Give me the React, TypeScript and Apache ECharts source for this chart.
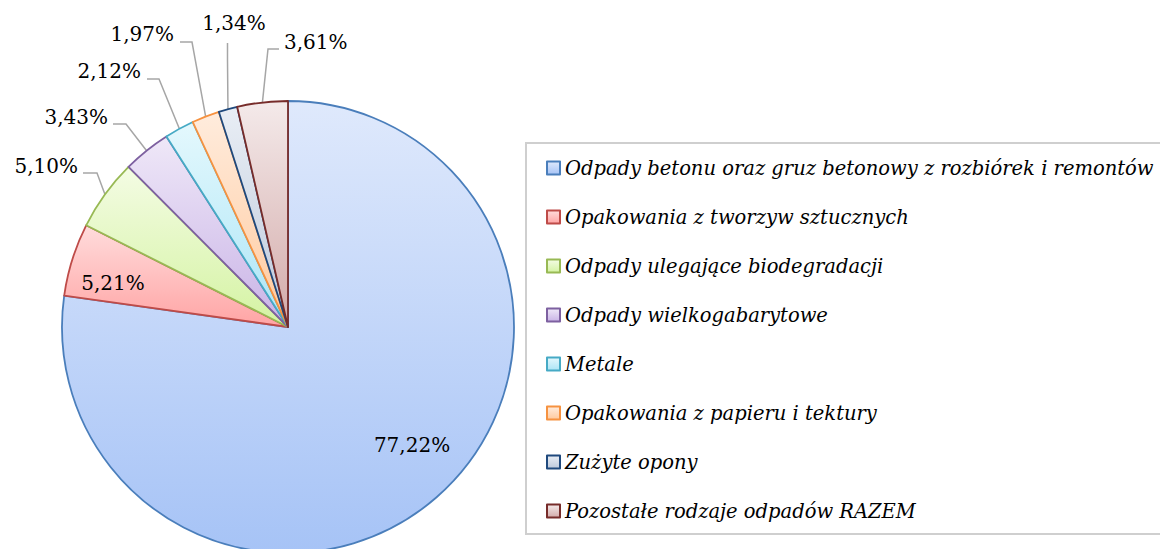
import React, { useEffect, useRef } from "react";
import * as echarts from "echarts";

const categories = [
  "Odpady betonu oraz gruz betonowy z rozbiórek i remontów",
  "Opakowania z tworzyw sztucznych",
  "Odpady ulegające biodegradacji",
  "Odpady wielkogabarytowe",
  "Metale",
  "Opakowania z papieru i tektury",
  "Zużyte opony",
  "Pozostałe rodzaje odpadów RAZEM",
];
const values = [77.22, 5.21, 5.1, 3.43, 2.12, 1.97, 1.34, 3.61];
const valueLabels = ["77,22%", "5,21%", "5,10%", "3,43%", "2,12%", "1,97%", "1,34%", "3,61%"];

const borderColors = ["#4a7ebb", "#be4b48", "#98b954", "#7d60a0", "#46aac5", "#f69240", "#1f497d", "#772c2a"];
const fillTop = ["#dfe9fc", "#ffdcdc", "#f4fce4", "#efe8f8", "#e4f8fd", "#ffecdd", "#e9eef5", "#f4eaea"];
const fillBottom = ["#a6c3f6", "#ffa4a4", "#d4f3a2", "#c9b3e6", "#abe5f6", "#ffc99d", "#bdc9db", "#d3aaa9"];

const CX = 288;
const CY = 327;
const R = 226;

// label placement (layout only)
const labelPlacement: Record<number, any> = {
  0: { x: 412, y: 445, align: "center" },
  1: { x: 113, y: 283, align: "center" },
  2: { x: 78, y: 166, align: "right", line: [[97, 173], [83, 173]] },
  3: { x: 108, y: 117, align: "right", line: [[126, 124], [113, 124]] },
  4: { x: 141, y: 71, align: "right", line: [[159, 79], [147, 79]] },
  5: { x: 174, y: 34, align: "right", line: [[192, 42], [180, 42]] },
  6: { x: 234, y: 23, align: "center", line: [[227.5, 60], [227.5, 43]] },
  7: { x: 284, y: 42, align: "left", line: [[268, 49], [279, 49]] },
};

export default function App() {
  const ref = useRef<HTMLDivElement>(null);
  useEffect(() => {
    if (!ref.current) return;
    const chart = echarts.init(ref.current, undefined, { renderer: "svg" });
    const total = values.reduce((a, b) => a + b, 0);
    const mids: number[] = [];
    let acc = 0;
    values.forEach((v) => {
      const a0 = (acc / total) * 360;
      acc += v;
      const a1 = (acc / total) * 360;
      mids.push((a0 + a1) / 2);
    });
    const data = categories.map((name, i) => ({
      name,
      value: values[i],
      itemStyle: {
        color: new echarts.graphic.LinearGradient(0, 0, 0, 1, [
          { offset: 0, color: fillTop[i] },
          { offset: 1, color: fillBottom[i] },
        ]),
        borderColor: borderColors[i],
        borderWidth: 1.8,
      },
      label: { position: i < 2 ? "inside" : "outside" },
    }));
    chart.setOption({
      animation: false,
      legend: {
        orient: "vertical",
        left: 526,
        top: 143,
        padding: [15, 12, 13, 20],
        borderColor: "#cfcfcf",
        borderWidth: 2,
        icon: "rect",
        itemWidth: 13,
        itemHeight: 13,
        itemGap: 29,
        selectedMode: false,
        textStyle: {
          fontFamily: "DejaVu Serif",
          fontStyle: "italic",
          fontSize: 19.5,
          lineHeight: 20,
          color: "#000",
        },
        data: categories,
      },
      series: [
        {
          type: "pie",
          center: [CX, CY],
          radius: R,
          startAngle: 90,
          clockwise: true,
          avoidLabelOverlap: false,
          emphasis: { disabled: true },
          data,
          label: {
            fontFamily: "DejaVu Serif",
            fontSize: 20,
            color: "#000",
            formatter: (p: any) => valueLabels[p.dataIndex],
          },
          labelLine: {
            show: true,
            lineStyle: { color: "#a6a6a6", width: 1.5 },
          },
          labelLayout: (params: any) => {
            const i = params.dataIndex;
            const pl = labelPlacement[i];
            const out: any = { x: pl.x, y: pl.y, align: pl.align, verticalAlign: "middle" };
            if (pl.line) {
              const a = (mids[i] * Math.PI) / 180;
              const anchor = [CX + R * Math.sin(a), CY - R * Math.cos(a)];
              out.labelLinePoints = [anchor, pl.line[0], pl.line[1]];
            }
            return out;
          },
        },
      ],
    });
    return () => chart.dispose();
  }, []);
  return (
    <div
      ref={ref}
      style={{ position: "absolute", left: 0, top: 0, width: 1160, height: 549, background: "#fff" }}
    />
  );
}
